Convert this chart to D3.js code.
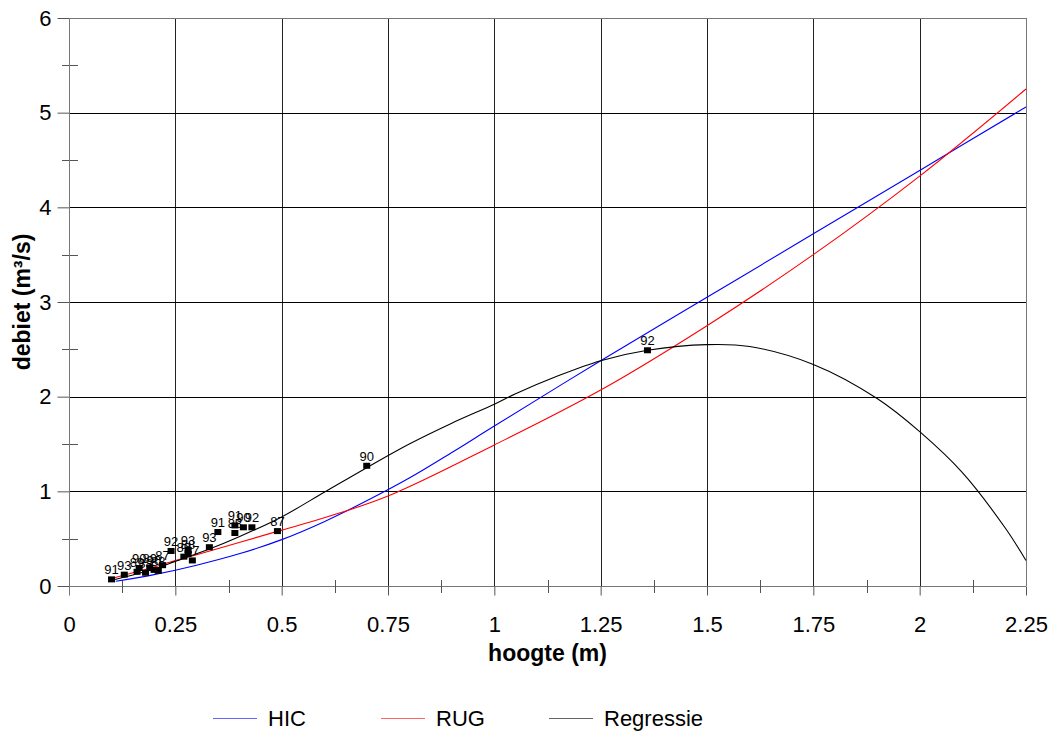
<!DOCTYPE html>
<html>
<head>
<meta charset="utf-8">
<script src="https://cdn.jsdelivr.net/npm/d3@7"></script>
<style>
  body { margin: 0; background: #fff; }
  text { font-family: Arial, "Liberation Sans", sans-serif; }
</style>
</head>
<body>
<script>
// hoogte (m) / debiet (m3/s) readings
var hic = [[0.11,0.05],[0.2,0.12],[0.3,0.22],[0.4,0.34],[0.5,0.49],[0.6,0.68],[0.7,0.90],[0.8,1.14],
  [0.9,1.41],[1.0,1.69],[1.25,2.38],[1.5,3.05],[1.75,3.72],[2.0,4.39],[2.25,5.06]];
var rug = [[0.1,0.08],[0.2,0.2],[0.25,0.27],[0.3,0.33],[0.4,0.46],[0.5,0.59],[0.6,0.72],[0.75,0.95],
  [1.0,1.49],[1.25,2.07],[1.5,2.75],[1.75,3.5],[2.0,4.33],[2.25,5.25]];
var regressie = [[0.1,0.06],[0.2,0.18],[0.25,0.26],[0.33,0.39],[0.4,0.52],[0.5,0.73],[0.6,0.99],[0.7,1.25],
  [0.8,1.5],[0.9,1.72],[1.0,1.92],[1.05,2.03],[1.15,2.22],[1.25,2.38],[1.36,2.49],[1.5,2.55],[1.6,2.53],
  [1.75,2.34],[1.9,1.98],[2.0,1.63],[2.1,1.2],[2.2,0.62],[2.25,0.27]];
var metingen = [
  [0.10,0.07,"91"],[0.13,0.12,"93"],[0.16,0.15,"89"],[0.165,0.19,"90"],[0.18,0.14,"88"],
  [0.19,0.19,"89"],[0.20,0.17,"90"],[0.21,0.16,"88"],[0.22,0.22,"87"],[0.24,0.37,"92"],
  [0.27,0.31,"89"],[0.28,0.38,"93"],[0.28,0.34,"88"],[0.29,0.27,"87"],[0.33,0.41,"93"],
  [0.35,0.57,"91"],[0.39,0.64,"91"],[0.39,0.56,"88"],[0.41,0.62,"90"],[0.43,0.62,"92"],
  [0.49,0.58,"87"],[0.70,1.27,"90"],[1.36,2.49,"92"]];
var xTicks = [0,0.25,0.5,0.75,1,1.25,1.5,1.75,2,2.25];
var xMinor = [0.125,0.375,0.625,0.875,1.125,1.375,1.625,1.875,2.125];
var yTicks = [0,1,2,3,4,5,6];
var yMinor = [0.5,1.5,2.5,3.5,4.5,5.5];
var series = [
  {name:"HIC", data:hic, color:"#0000ff"},
  {name:"RUG", data:rug, color:"#ff0000"},
  {name:"Regressie", data:regressie, color:"#000000"}];

var w = 1057, h = 740;
var padL = 69, padR = 1026, padT = 18, padB = 586;

var svg = d3.select("body").append("svg")
    .attr("width", w)
    .attr("height", h);

var x = d3.scaleLinear().domain([0, 2.25]).range([padL, padR]);
var y = d3.scaleLinear().domain([0, 6]).range([padB, padT]);

//grid
svg.append("g").selectAll("line").data(xTicks).enter().append("line")
    .attr("x1", function(d){ return Math.round(x(d)) + 0.5; })
    .attr("x2", function(d){ return Math.round(x(d)) + 0.5; })
    .attr("y1", padT).attr("y2", padB)
    .style("stroke", function(d, i){ return (i == 0 || i == xTicks.length-1) ? "#777" : "#222"; });
svg.append("g").selectAll("line").data(yTicks).enter().append("line")
    .attr("y1", function(d){ return Math.round(y(d)) + 0.5; })
    .attr("y2", function(d){ return Math.round(y(d)) + 0.5; })
    .attr("x1", padL).attr("x2", padR)
    .style("stroke", function(d, i){ return (i == 0 || i == yTicks.length-1) ? "#777" : "#000"; });

//x axis
var xAxis = svg.append("g")
    .attr("transform", "translate(0," + (padB + 0.5) + ")")
    .call(d3.axisBottom(x).tickValues(xTicks).tickSize(9).tickSizeOuter(0)
      .tickFormat(function(d){ return String(d); }));
xAxis.select(".domain").remove();
xAxis.selectAll("line").style("stroke", "#555");
xAxis.selectAll("text").attr("y", 45).attr("dy", null)
    .style("font-size", "22px").style("fill", "#000");
svg.append("g").selectAll("line").data(xMinor).enter().append("line")
    .attr("x1", function(d){ return Math.round(x(d)) + 0.5; })
    .attr("x2", function(d){ return Math.round(x(d)) + 0.5; })
    .attr("y1", padB - 6).attr("y2", padB + 7)
    .style("stroke", "#555");

//y axis
var yAxis = svg.append("g")
    .attr("transform", "translate(" + (padL + 0.5) + ",0)")
    .call(d3.axisLeft(y).tickValues(yTicks).tickSize(12).tickSizeOuter(0)
      .tickFormat(function(d){ return String(d); }));
yAxis.select(".domain").remove();
yAxis.selectAll("line").style("stroke", "#555");
yAxis.selectAll("text").attr("x", -18).style("font-size", "22px").style("fill", "#000");
svg.append("g").selectAll("line").data(yMinor).enter().append("line")
    .attr("y1", function(d){ return Math.round(y(d)) + 0.5; })
    .attr("y2", function(d){ return Math.round(y(d)) + 0.5; })
    .attr("x1", padL - 7).attr("x2", padL + 9)
    .style("stroke", "#555");
svg.append("line")
    .attr("x1", padL + 0.5).attr("x2", padL + 0.5)
    .attr("y1", padT).attr("y2", padB + 9)
    .style("stroke", "#777");

//curves
var line = d3.line()
    .x(function(d){ return x(d[0]); })
    .y(function(d){ return y(d[1]); })
    .curve(d3.curveCatmullRom.alpha(0.5));
svg.append("g").selectAll("path").data(series).enter().append("path")
    .attr("d", function(d){ return line(d.data); })
    .style("fill", "none")
    .style("stroke", function(d){ return d.color; })
    .style("stroke-width", 1.1);

//measurements
var pts = svg.append("g");
pts.selectAll("rect").data(metingen).enter().append("rect")
    .attr("x", function(d){ return x(d[0]) - 3.5; })
    .attr("y", function(d){ return y(d[1]) - 3; })
    .attr("width", 7).attr("height", 6)
    .style("fill", "#000");
pts.selectAll("text").data(metingen).enter().append("text")
    .attr("x", function(d){ return x(d[0]); })
    .attr("y", function(d){ return y(d[1]) - 5; })
    .attr("text-anchor", "middle")
    .style("font-size", "13px")
    .text(function(d){ return d[2]; });

//axis titles
svg.append("text")
    .attr("x", (padL + padR) / 2).attr("y", 661)
    .attr("text-anchor", "middle")
    .style("font-size", "23px").style("font-weight", "bold")
    .text("hoogte (m)");
svg.append("text")
    .attr("transform", "translate(30," + ((padT + padB) / 2) + ") rotate(-90)")
    .attr("text-anchor", "middle")
    .style("font-size", "23px").style("font-weight", "bold")
    .text("debiet (m³/s)");

//legend
var legend = svg.append("g").selectAll("g").data(series).enter().append("g")
    .attr("transform", function(d, i){ return "translate(" + (213 + i * 168) + ",718)"; });
legend.append("line")
    .attr("x1", 0).attr("x2", 44).attr("y1", 0.5).attr("y2", 0.5)
    .style("stroke", function(d){ return d.color; })
    .style("opacity", 0.6);
legend.append("text")
    .attr("x", 55).attr("y", 8)
    .style("font-size", "22px")
    .text(function(d){ return d.name; });
</script>
</body>
</html>
